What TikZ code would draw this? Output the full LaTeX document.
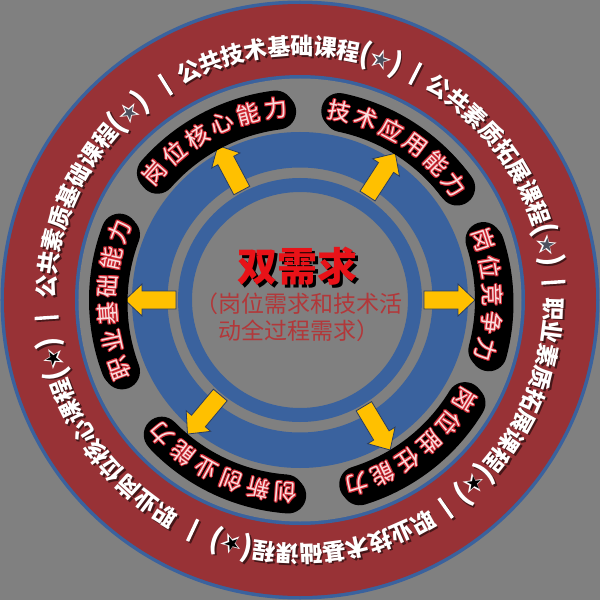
\documentclass[tikz,border=0pt]{standalone}
\usepackage{fontspec}
\newfontfamily\cjk{Noto Sans CJK SC}
\newfontfamily\symf{DejaVu Sans}
\definecolor{bgG}{RGB}{128,128,128}
\definecolor{ringB}{RGB}{58,98,158}
\definecolor{ringR}{RGB}{152,50,54}
\definecolor{arrY}{RGB}{255,192,0}
\definecolor{arrO}{RGB}{40,60,100}
\definecolor{lblR}{RGB}{205,40,50}
\definecolor{lblF}{RGB}{248,222,222}
\definecolor{subR}{RGB}{178,56,58}
\definecolor{titR}{RGB}{232,18,24}
\definecolor{starG}{RGB}{78,80,94}
\tikzset{
  outch/.style={font=\cjk\bfseries\fontsize{23}{23}\selectfont, text=white, inner sep=0},
  outsh/.style={font=\cjk\bfseries\fontsize{23}{23}\selectfont, text=black, opacity=0.55, inner sep=0},
  parch/.style={font=\cjk\bfseries\fontsize{29}{29}\selectfont, text=white, inner sep=0},
  parsh/.style={font=\cjk\bfseries\fontsize{29}{29}\selectfont, text=black, opacity=0.55, inner sep=0},
  starout/.style={font=\symf\fontsize{27}{27}\selectfont, text=white, inner sep=0},
  starin/.style={font=\symf\fontsize{19}{19}\selectfont, inner sep=0},
  midch/.style={font=\cjk\fontsize{23}{23}\selectfont, inner sep=0},
  blob/.style={black, line width=36, line cap=round},
  arrowshape/.style={fill=arrY, draw=arrO, line width=0.8, line join=miter},
  sepline/.style={white, line width=3.4},
}
\newcommand\OuterArc[4]{%
  \foreach \ch [count=\k from 0] in {#3} {
    \pgfmathsetmacro\ang{#2-5.3*\k}
    \node[outsh, rotate=\ang-90] at ([shift={(1.8,-1.8)}]\ang:254) {\ch};
    \node[outch, rotate=\ang-90] (#1c\k) at (\ang:254) {\ch};
  }
  \pgfmathsetmacro\angA{#2-41.0}
  \pgfmathsetmacro\angB{#2-44.6}
  \pgfmathsetmacro\angC{#2-48.2}
  \node[parsh, rotate=\angA-90] at ([shift={(1.8,-1.8)}]\angA:254) {(};
  \node[parch, rotate=\angA-90] (#1l) at (\angA:254) {(};
  \node[starout, rotate=\angB-90] (#1s) at (\angB:254) {★};
  \node[starin, text=#4, rotate=\angB-90] (#1t) at (\angB:254) {★};
  \node[parsh, rotate=\angC-90] at ([shift={(1.8,-1.8)}]\angC:254) {)};
  \node[parch, rotate=\angC-90] (#1r) at (\angC:254) {)};
}
\begin{document}
\begin{tikzpicture}[x=1pt,y=1pt]
\useasboundingbox (-300,-300) rectangle (300,300);
\fill[bgG] (-300,-300) rectangle (300,300);
% outer ring
\fill[ringB] (0,0) circle (299.5);
\fill[ringR] (0,0) circle (296);
\fill[ringB] (0,0) circle (225);
\fill[bgG] (0,0) circle (221.5);
% inner rings
\fill[ringB, even odd rule] (0,0) circle (168) (0,0) circle (132.5);
\fill[ringB, even odd rule] (0,0) circle (122) (0,0) circle (108);
% arrows
\foreach \a in {118,57,0,-59,-130,180} {
  \begin{scope}[rotate=\a]
    \filldraw[arrowshape] (124,-9) -- (158,-9) -- (158,-16) -- (175,0) -- (158,16) -- (158,9) -- (124,9) -- cycle;
  \end{scope}
}
% middle labels
\foreach \c/\n/\t [count=\L] in {118/6/{岗,位,核,心,能,力}, 57.5/6/{技,术,应,用,能,力}, 1.5/5/{岗,位,竞,争,力}, -52/6/{岗,位,胜,任,能,力}, -115/6/{创,新,创,业,能,力}, 180/6/{职,业,基,础,能,力}} {
  \pgfmathsetmacro\sa{\c+(\n-1)/2*8.3}
  \pgfmathsetmacro\ea{\c-(\n-1)/2*8.3}
  \draw[blob, shift={(2.5,-3)}] (\sa:193) arc[start angle=\sa, end angle=\ea, radius=193];
  \draw[blob] (\sa:193) arc[start angle=\sa, end angle=\ea, radius=193];
  \foreach \ch [count=\k] in \t {
    \pgfmathsetmacro\ang{\c+((\n+1)/2-\k)*8.3}
    \foreach \dx/\dy in {1/0,-1/0,0/1,0/-1,0.7/0.7,0.7/-0.7,-0.7/0.7,-0.7/-0.7}
      \node[midch, text=lblR, rotate=\ang-90] at ([shift={(\dx,\dy)}]\ang:193) {\ch};
    \node[midch, text=lblF, rotate=\ang-90] (m\L-\k) at (\ang:193) {\ch};
  }
}
% separators
\foreach \a in {122,63,4,-55,-115,-176} {
  \draw[sepline, black, opacity=0.5, shift={(1.8,-1.8)}] (\a:242) -- (\a:266);
  \draw[sepline] (\a:242) -- (\a:266);
}
% outer texts
\OuterArc{oa}{116}{公,共,技,术,基,础,课,程}{starG}
\OuterArc{ob}{57}{公,共,素,质,拓,展,课,程}{starG}
\OuterArc{oc}{-2}{职,业,素,质,拓,展,课,程}{black}
\OuterArc{od}{-61}{职,业,技,术,基,础,课,程}{black}
\OuterArc{oe}{-122}{职,业,岗,位,核,心,课,程}{black}
\OuterArc{of}{177}{公,共,素,质,基,础,课,程}{starG}
% centre
\node[font=\cjk\bfseries\fontsize{40}{40}\selectfont, text=black, inner sep=0] (titsh) at (1,31) {双需求};
\node[font=\cjk\bfseries\fontsize{40}{40}\selectfont, text=titR, inner sep=0] (tit) at (-2,34) {双需求};
\node[font=\cjk\fontsize{23}{23}\selectfont, text=subR, inner sep=0, anchor=west] (sub1) at (-105,-4) {（岗位需求和技术活};
\node[font=\cjk\fontsize{23}{23}\selectfont, text=subR, inner sep=0, anchor=west] (sub2) at (-82,-31) {动全过程需求）};
\end{tikzpicture}
\end{document}
